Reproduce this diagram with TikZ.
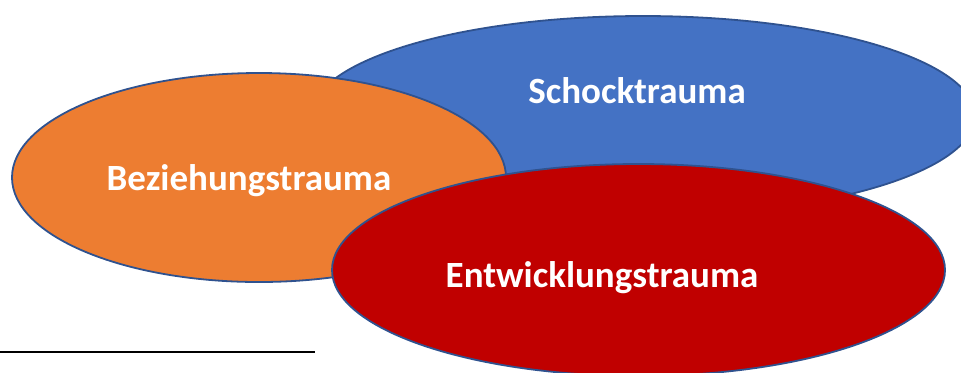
\documentclass[tikz,border=0pt]{standalone}
\usepackage{fontspec}
\setmainfont{Carlito}
\usepackage{xcolor}
\usetikzlibrary{shapes.geometric,positioning}
\definecolor{traumablue}{HTML}{4472C4}
\definecolor{traumaorange}{HTML}{ED7D31}
\definecolor{traumared}{HTML}{C00000}
\definecolor{rimblue}{HTML}{2F528F}

\begin{document}
\begin{tikzpicture}[x=0.5pt, y=-0.5pt,
  blob/.style={ellipse, draw=rimblue, line width=0.9pt, inner sep=0pt},
  lbl/.style={anchor=base, text=white, inner sep=0pt,
    font=\fontsize{18.5}{22}\selectfont\bfseries}]
  % canvas: 961 x 372 px, y runs downwards
  \useasboundingbox (0,0) rectangle (961,372);

  % Schock (back)
  \node[blob, fill=traumablue, minimum width=332pt, minimum height=100pt]
    (schock) at (643,116) {};
  % Beziehung
  \node[blob, fill=traumaorange, minimum width=247pt, minimum height=104.5pt]
    (beziehung) at (259,177.5) {};
  % Entwicklung (front)
  \node[blob, fill=traumared, minimum width=306.5pt, minimum height=106pt]
    (entwicklung) at (638.5,270) {};

  % Labels
  \node[lbl] (schocklbl) at (637,103) {Schocktrauma};
  \node[lbl] (beziehunglbl) at (249,190) {Beziehungstrauma};
  \node[lbl] (entwicklunglbl) at (602,287) {Entwicklungstrauma};

  % footnote rule
  \coordinate (rulea) at (0,352);
  \coordinate (ruleb) at (315,352);
  \draw[line width=1pt] (rulea) -- (ruleb);

\end{tikzpicture}
\end{document}
